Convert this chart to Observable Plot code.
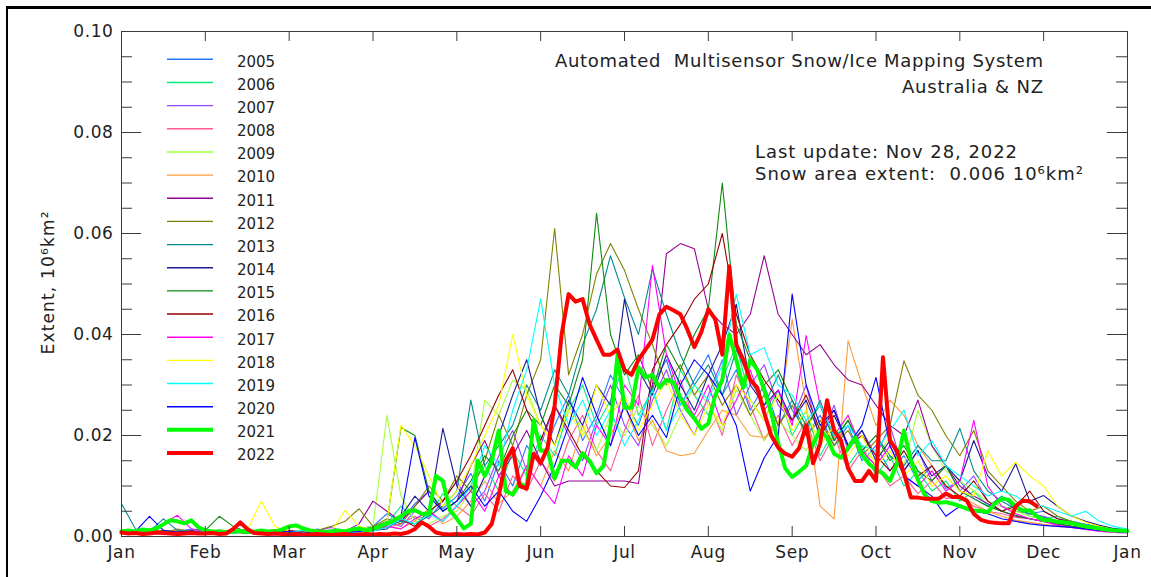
<!DOCTYPE html>
<html>
<head>
<meta charset="utf-8">
<script src="https://cdn.jsdelivr.net/npm/d3@7"></script>
<script src="https://cdn.jsdelivr.net/npm/@observablehq/plot@0.6"></script>
<style>
  html, body { margin: 0; padding: 0; background: #fff; }
  #wrap { position: relative; width: 1151px; height: 577px; overflow: hidden; font-family: "DejaVu Sans", sans-serif; }
  #chart { position: absolute; left: 0; top: 0; }
  #chart text { letter-spacing: 0.6px; }
  #overlay { position: absolute; left: 0; top: 0; pointer-events: none; font-family: "DejaVu Sans", sans-serif; fill: #222; }
  #borderL { position: absolute; left: 6px; top: 6px; width: 2px; height: 600px; background: #000; }
  #borderT { position: absolute; left: 6px; top: 6px; width: 1200px; height: 3px; background: #000; }
</style>
</head>
<body>
<div id="wrap">
  <div id="chart"></div>
  <svg id="overlay" width="1151" height="577"></svg>
  <div id="borderL"></div>
  <div id="borderT"></div>
</div>
<script>
// ---------- labels ----------
const monthLabels = ["Jan","Feb","Mar","Apr","May","Jun","Jul","Aug","Sep","Oct","Nov","Dec","Jan"];
const monthTicks = [0,1,2,3,4,5,6,7,8,9,10,11,12];
const yMajorTicks = [0, 0.02, 0.04, 0.06, 0.08, 0.10];
const yMinorTicks = [0.005,0.01,0.015,0.025,0.03,0.035,0.045,0.05,0.055,0.065,0.07,0.075,0.085,0.09,0.095];
const yearLabels = ["2005","2006","2007","2008","2009","2010","2011","2012","2013","2014","2015","2016","2017","2018","2019","2020","2021","2022"];
const yearColors = ["#2878ff","#00ee80","#9945ff","#ff5a96","#a6ff3c","#ff9a3c","#960096","#808000","#008c8c","#1a1a99","#108a10","#960000","#ff00ff","#ffff00","#00ffff","#0000ff","#00ff00","#ff0000"];
const titleLine1 = "Automated  Multisensor Snow/Ice Mapping System";
const titleLine2 = "Australia & NZ";
const updateLine = "Last update: Nov 28, 2022";
const extentLine = "Snow area extent:  0.006 10\u2076km\u00b2";
const yAxisLabel = "Extent, 10\u2076km\u00b2";

// ---------- snow extent, 10^6 km^2 ----------
// background years: one value every 1/6 month (Jan 1 .. next Jan 1)
const bgStep = 1 / 6;
const ext2005 = [0.001,0.0008,0.0012,0.0009,0.001,0.0015, 0.0012,0.0008,0.001,0.0014,0.0009,0.001, 0.0012,0.0008,0.0015,0.001,0.0009,0.0016, 0.002,0.0045,0.003,0.0065,0.009,0.0055, 0.008,0.0125,0.007,0.015,0.01,0.018, 0.014,0.022,0.028,0.019,0.024,0.032, 0.027,0.022,0.03,0.035,0.026,0.031, 0.036,0.028,0.033,0.025,0.03,0.022, 0.027,0.02,0.024,0.018,0.022,0.015, 0.018,0.013,0.016,0.011,0.014,0.0095, 0.011,0.0075,0.006,0.008,0.0055,0.0045, 0.005,0.0035,0.003,0.0024,0.002,0.0015, 0.0012];
const ext2006 = [0.0006,0.0009,0.0007,0.0011,0.0008,0.0007, 0.001,0.0006,0.0008,0.0012,0.0007,0.0009, 0.0008,0.0013,0.0009,0.0007,0.0011,0.0014, 0.0015,0.0025,0.006,0.0035,0.004,0.0085, 0.006,0.01,0.014,0.009,0.017,0.012, 0.02,0.016,0.025,0.03,0.022,0.027, 0.034,0.024,0.029,0.021,0.033,0.028, 0.024,0.031,0.038,0.027,0.023,0.029, 0.02,0.025,0.016,0.021,0.014,0.018, 0.012,0.016,0.01,0.013,0.009,0.011, 0.007,0.009,0.006,0.005,0.0065,0.004, 0.0035,0.004,0.0028,0.0022,0.0018,0.0014, 0.001];
const ext2007 = [0.0012,0.0008,0.0015,0.001,0.0007,0.0011, 0.0008,0.0013,0.0009,0.0007,0.0012,0.0008, 0.001,0.0008,0.0012,0.0018,0.001,0.0009, 0.0014,0.003,0.002,0.005,0.0035,0.007, 0.011,0.006,0.009,0.016,0.021,0.013, 0.018,0.026,0.02,0.015,0.023,0.03, 0.022,0.018,0.027,0.033,0.025,0.02, 0.028,0.035,0.024,0.03,0.034,0.026, 0.023,0.03,0.019,0.026,0.017,0.021, 0.016,0.022,0.013,0.017,0.011,0.014, 0.009,0.012,0.007,0.006,0.005,0.0045, 0.004,0.003,0.0025,0.0022,0.0016,0.0012, 0.0009];
const ext2008 = [0.0008,0.001,0.0006,0.0009,0.0012,0.0008, 0.0007,0.001,0.0008,0.0006,0.0009,0.0011, 0.0007,0.0009,0.0013,0.0008,0.0006,0.001, 0.0012,0.0018,0.0025,0.004,0.002,0.0035, 0.006,0.004,0.0085,0.005,0.012,0.009, 0.015,0.011,0.019,0.024,0.017,0.013, 0.021,0.028,0.018,0.025,0.031,0.023, 0.027,0.02,0.032,0.026,0.019,0.024, 0.018,0.023,0.015,0.02,0.013,0.017, 0.014,0.01,0.012,0.0085,0.011,0.0075, 0.008,0.006,0.005,0.0045,0.0038,0.0035, 0.003,0.0025,0.002,0.0016,0.0013,0.001, 0.0008];
const ext2009 = [0.0005,0.0008,0.0006,0.001,0.0007,0.0006, 0.0009,0.0006,0.0008,0.0007,0.001,0.0006, 0.0008,0.0007,0.001,0.0009,0.0012,0.0015, 0.002,0.024,0.008,0.003,0.0025,0.004, 0.005,0.009,0.027,0.024,0.031,0.029, 0.022,0.018,0.026,0.021,0.017,0.024, 0.02,0.026,0.022,0.018,0.024,0.03, 0.026,0.021,0.029,0.024,0.019,0.023, 0.02,0.017,0.022,0.019,0.024,0.017, 0.015,0.02,0.014,0.025,0.018,0.013, 0.011,0.009,0.007,0.006,0.005,0.004, 0.0035,0.003,0.0024,0.002,0.0015,0.0012, 0.001];
const ext2010 = [0.0007,0.001,0.0008,0.0013,0.0009,0.0007, 0.001,0.0008,0.0012,0.0007,0.0009,0.0008, 0.0006,0.0009,0.0008,0.0012,0.0007,0.001, 0.0013,0.002,0.0016,0.003,0.0055,0.0025, 0.004,0.007,0.011,0.0065,0.009,0.014, 0.01,0.017,0.013,0.022,0.016,0.02, 0.026,0.019,0.023,0.017,0.016,0.0165, 0.021,0.025,0.024,0.02,0.0196,0.022, 0.043,0.026,0.006,0.0035,0.0388,0.03, 0.022,0.027,0.024,0.018,0.014,0.01, 0.008,0.0065,0.005,0.004,0.0032,0.0028, 0.0024,0.002,0.0018,0.0015,0.0012,0.001, 0.0008];
const ext2011 = [0.0008,0.0006,0.001,0.0007,0.0009,0.0012, 0.0008,0.001,0.0007,0.0009,0.0011,0.0008, 0.001,0.0007,0.0009,0.0013,0.001,0.0025, 0.007,0.005,0.003,0.006,0.009,0.005, 0.007,0.014,0.019,0.012,0.016,0.021, 0.015,0.01,0.011,0.011,0.011,0.011, 0.011,0.0105,0.03,0.056,0.058,0.057, 0.045,0.042,0.04,0.044,0.0556,0.044, 0.04,0.036,0.038,0.034,0.031,0.03, 0.026,0.022,0.02,0.027,0.018,0.014, 0.01,0.008,0.0065,0.005,0.004,0.0035, 0.003,0.0025,0.002,0.0016,0.0012,0.001, 0.0008];
const ext2012 = [0.0008,0.0012,0.001,0.0007,0.0015,0.001, 0.0009,0.0007,0.0012,0.0008,0.001,0.0014, 0.001,0.0008,0.0012,0.002,0.003,0.0055, 0.002,0.0035,0.0025,0.006,0.01,0.007, 0.012,0.009,0.015,0.024,0.018,0.028, 0.035,0.061,0.032,0.04,0.052,0.058, 0.0527,0.045,0.038,0.03,0.034,0.028, 0.032,0.026,0.03,0.024,0.028,0.022, 0.026,0.02,0.023,0.018,0.021,0.016, 0.019,0.022,0.0348,0.028,0.025,0.02, 0.016,0.021,0.013,0.01,0.007,0.005, 0.006,0.004,0.003,0.0022,0.0016,0.0012, 0.001];
const ext2013 = [0.0065,0.0015,0.001,0.0035,0.0012,0.001, 0.0008,0.001,0.0007,0.0012,0.0009,0.0008, 0.001,0.0007,0.0009,0.0011,0.0008,0.001, 0.0015,0.002,0.003,0.0025,0.004,0.006, 0.009,0.027,0.014,0.018,0.022,0.03, 0.025,0.033,0.028,0.038,0.045,0.0556, 0.0473,0.04,0.053,0.044,0.036,0.03, 0.034,0.028,0.037,0.031,0.026,0.032, 0.025,0.021,0.027,0.019,0.023,0.017, 0.02,0.016,0.014,0.018,0.015,0.015, 0.0214,0.013,0.009,0.007,0.0055,0.0045, 0.0038,0.003,0.0025,0.002,0.0016,0.0012, 0.001];
const ext2014 = [0.001,0.0007,0.0012,0.0009,0.0008,0.0011, 0.0007,0.0009,0.001,0.0008,0.0012,0.0009, 0.0008,0.001,0.0007,0.0012,0.0009,0.001, 0.0012,0.0015,0.004,0.008,0.005,0.0214, 0.01,0.006,0.012,0.02,0.028,0.035, 0.024,0.018,0.027,0.022,0.03,0.026, 0.047,0.033,0.028,0.036,0.03,0.025, 0.032,0.038,0.046,0.03,0.026,0.029, 0.023,0.027,0.02,0.024,0.018,0.021, 0.015,0.019,0.013,0.017,0.012,0.014, 0.011,0.019,0.012,0.009,0.0144,0.007, 0.0081,0.006,0.004,0.003,0.0022,0.0016, 0.0013];
const ext2015 = [0.0008,0.001,0.0007,0.0012,0.0009,0.001, 0.0012,0.004,0.002,0.0009,0.0007,0.001, 0.0008,0.0011,0.0009,0.0007,0.001,0.0013, 0.0018,0.003,0.0216,0.02,0.009,0.005, 0.007,0.011,0.016,0.013,0.02,0.025, 0.022,0.03,0.026,0.035,0.064,0.04, 0.032,0.036,0.029,0.038,0.033,0.04, 0.045,0.07,0.042,0.035,0.03,0.033, 0.027,0.022,0.026,0.019,0.023,0.017, 0.02,0.015,0.018,0.013,0.011,0.014, 0.009,0.0075,0.006,0.005,0.0042,0.0035, 0.003,0.0025,0.002,0.0016,0.0013,0.001, 0.0008];
const ext2016 = [0.001,0.0008,0.0012,0.0007,0.001,0.0009, 0.0008,0.0011,0.0009,0.0007,0.001,0.0008, 0.0012,0.0009,0.0007,0.001,0.0008,0.0011, 0.0015,0.0025,0.0035,0.002,0.005,0.007, 0.011,0.016,0.022,0.028,0.033,0.025, 0.019,0.026,0.021,0.016,0.013,0.01, 0.0097,0.013,0.033,0.038,0.042,0.047, 0.05,0.06,0.044,0.036,0.031,0.027, 0.023,0.028,0.021,0.025,0.018,0.02, 0.016,0.013,0.017,0.012,0.014,0.01, 0.008,0.011,0.007,0.005,0.006,0.009, 0.005,0.0035,0.0028,0.0022,0.0016,0.0012, 0.001];
const ext2017 = [0.0008,0.001,0.0012,0.0025,0.0042,0.0015, 0.001,0.0008,0.0012,0.0009,0.001,0.0007, 0.001,0.0008,0.0009,0.0012,0.0007,0.001, 0.0013,0.002,0.0015,0.0035,0.005,0.003, 0.006,0.009,0.005,0.012,0.008,0.014, 0.01,0.0065,0.016,0.012,0.022,0.018, 0.03,0.026,0.0537,0.036,0.028,0.024, 0.03,0.022,0.027,0.033,0.025,0.029, 0.022,0.0398,0.026,0.02,0.024,0.017, 0.014,0.018,0.012,0.01,0.013,0.009, 0.011,0.023,0.01,0.006,0.0045,0.0035, 0.003,0.0022,0.0018,0.0014,0.001,0.0008, 0.0007];
const ext2018 = [0.0006,0.0008,0.001,0.0007,0.0009,0.0008, 0.001,0.0007,0.0009,0.0012,0.007,0.002, 0.001,0.0008,0.0012,0.0009,0.0052,0.002, 0.0012,0.003,0.022,0.018,0.012,0.006, 0.009,0.014,0.02,0.026,0.04,0.028, 0.022,0.018,0.025,0.02,0.03,0.024, 0.028,0.021,0.026,0.031,0.024,0.02, 0.026,0.022,0.03,0.027,0.023,0.028, 0.021,0.025,0.018,0.022,0.016,0.02, 0.014,0.017,0.012,0.015,0.01,0.012, 0.009,0.008,0.017,0.012,0.0147,0.012, 0.01,0.006,0.004,0.0028,0.002,0.0014, 0.001];
const ext2019 = [0.0008,0.0006,0.0009,0.001,0.0007,0.0008, 0.001,0.0008,0.0007,0.0009,0.0011,0.0008, 0.0009,0.0012,0.0008,0.001,0.0007,0.0009, 0.0011,0.0018,0.0035,0.0025,0.0045,0.003, 0.006,0.01,0.018,0.014,0.025,0.033, 0.047,0.03,0.022,0.027,0.02,0.025, 0.018,0.023,0.029,0.021,0.026,0.03, 0.027,0.034,0.048,0.036,0.0374,0.03, 0.028,0.023,0.026,0.02,0.022,0.018, 0.017,0.021,0.025,0.016,0.019,0.014, 0.012,0.01,0.008,0.009,0.008,0.0065, 0.006,0.005,0.004,0.005,0.003,0.002, 0.0015];
const ext2020 = [0.0008,0.001,0.004,0.0012,0.0009,0.001, 0.0008,0.0011,0.0009,0.0007,0.001,0.0008, 0.001,0.0007,0.0009,0.0012,0.0008,0.001, 0.0015,0.0025,0.004,0.0196,0.008,0.005, 0.007,0.01,0.006,0.009,0.005,0.003, 0.008,0.014,0.022,0.0315,0.024,0.018, 0.026,0.02,0.024,0.0196,0.03,0.035, 0.032,0.028,0.022,0.009,0.0156,0.02, 0.048,0.03,0.022,0.025,0.018,0.022, 0.0315,0.018,0.012,0.01,0.008,0.004, 0.006,0.005,0.0045,0.0035,0.003,0.0025, 0.0022,0.002,0.0018,0.0015,0.0012,0.001, 0.0008];
// highlighted years: one value every 1/12 month
const hiStep = 1 / 12;
const ext2021 = [0.001,0.0012,0.001,0.0014,0.0012,0.0016,0.0024,0.0032,0.003,0.0026,0.0032,0.0018,
  0.0012,0.001,0.001,0.0009,0.001,0.0011,0.0009,0.001,0.0012,0.001,0.001,0.0014,
  0.002,0.0022,0.0016,0.0012,0.001,0.0009,0.001,0.0012,0.001,0.0014,0.0016,0.0012,
  0.0015,0.002,0.0026,0.0032,0.004,0.005,0.0052,0.0045,0.0045,0.012,0.011,0.0052,
  0.0035,0.0016,0.0025,0.015,0.012,0.015,0.021,0.009,0.0083,0.0105,0.0098,0.023,
  0.017,0.017,0.0115,0.015,0.015,0.0137,0.0165,0.015,0.0125,0.014,0.022,0.036,
  0.0255,0.0255,0.0335,0.0315,0.032,0.0295,0.031,0.0305,0.0275,0.025,0.0234,0.0213,
  0.0224,0.028,0.031,0.04,0.035,0.0295,0.035,0.033,0.029,0.0245,0.0185,0.0135,
  0.0118,0.0128,0.014,0.0184,0.021,0.0196,0.0164,0.0156,0.0175,0.0196,0.0162,0.0144,
  0.0132,0.0125,0.011,0.0144,0.021,0.015,0.0112,0.0082,0.007,0.0067,0.0068,0.0065,
  0.006,0.0055,0.0051,0.0051,0.0048,0.0065,0.0075,0.0073,0.0059,0.0051,0.0052,0.004,
  0.0032,0.0032,0.0029,0.0028,0.0026,0.0023,0.002,0.0018,0.0016,0.0014,0.0012,0.0012,0.0011];
const ext2022 = [0.0008,0.0006,0.0007,0.0005,0.0006,0.0008,0.0007,0.0006,0.0005,0.0006,0.0007,0.0006,
  0.0006,0.0007,0.0005,0.0006,0.0015,0.0028,0.0015,0.0007,0.0006,0.0005,0.0006,0.0005,
  0.0004,0.0005,0.0003,0.0004,0.0005,0.0004,0.0003,0.0004,0.0005,0.0003,0.0004,0.0005,
  0.0004,0.0005,0.0004,0.0006,0.0005,0.0008,0.0015,0.0028,0.002,0.0008,0.0005,0.0004,
  0.0005,0.0004,0.0005,0.0004,0.0008,0.0025,0.008,0.015,0.0175,0.01,0.0095,0.0164,
  0.0145,0.0176,0.026,0.04,0.048,0.0465,0.047,0.042,0.039,0.036,0.036,0.037,
  0.033,0.032,0.035,0.037,0.039,0.044,0.0455,0.0448,0.044,0.041,0.0375,0.0405,
  0.045,0.043,0.036,0.0535,0.038,0.035,0.031,0.0295,0.0245,0.02,0.0176,0.0164,
  0.0158,0.0175,0.022,0.0145,0.0184,0.027,0.021,0.019,0.0135,0.011,0.011,0.013,
  0.011,0.0355,0.019,0.017,0.0125,0.0077,0.0077,0.0075,0.0075,0.0075,0.0085,0.0078,
  0.0078,0.0071,0.0045,0.0033,0.0029,0.0027,0.0026,0.0026,0.006,0.0071,0.007,0.006];

const bgYears = yearLabels.slice(0, 16);
const bgArrays = [ext2005,ext2006,ext2007,ext2008,ext2009,ext2010,ext2011,ext2012,ext2013,ext2014,ext2015,ext2016,ext2017,ext2018,ext2019,ext2020];
const hiYears = ["2021","2022"];
const hiArrays = [ext2021, ext2022];

const bgRows = [];
bgArrays.forEach((arr, k) => arr.forEach((v, i) => bgRows.push({year: bgYears[k], month: i * bgStep, extent: v})));
const hiRows = [];
hiArrays.forEach((arr, k) => arr.forEach((v, i) => hiRows.push({year: hiYears[k], month: i * hiStep, extent: v})));

const axisColor = "#3a3a3a";
const plotW = 1151 - 121 - 24;
const plotH = 577 - 31 - 41;

const chart = Plot.plot({
  width: 1151,
  height: 577,
  marginLeft: 121,
  marginRight: 24,
  marginTop: 31,
  marginBottom: 41,
  x: {domain: [0, 12], axis: null, label: null},
  y: {domain: [0, 0.1], axis: null, label: null},
  color: {type: "ordinal", domain: yearLabels, range: yearColors},
  style: {background: "#fff", color: "#222", fontFamily: "'DejaVu Sans', sans-serif", fontSize: "17px", overflow: "visible"},
  marks: [
    Plot.line(bgRows, {x: "month", y: "extent", z: "year", stroke: "year", strokeWidth: 1.1}),
    Plot.line(hiRows, {x: "month", y: "extent", z: "year", stroke: "year", strokeWidth: 4}),
    Plot.frame({stroke: axisColor}),
    Plot.ruleY(yMajorTicks, {stroke: axisColor, insetRight: plotW - 20}),
    Plot.ruleY(yMajorTicks, {stroke: axisColor, insetLeft: plotW - 20}),
    Plot.ruleY(yMinorTicks, {stroke: axisColor, insetRight: plotW - 11}),
    Plot.ruleY(yMinorTicks, {stroke: axisColor, insetLeft: plotW - 11}),
    Plot.ruleX(monthTicks.slice(1, -1), {stroke: axisColor, insetBottom: plotH - 10}),
    Plot.ruleX(monthTicks.slice(1, -1), {stroke: axisColor, insetTop: plotH - 10}),
    Plot.axisY(yMajorTicks, {tickSize: 0, tickPadding: 8, tickFormat: d3.format(".2f"), fontSize: 17, label: null}),
    Plot.axisX(monthTicks, {tickSize: 0, tickPadding: 9, tickFormat: (d) => monthLabels[d], fontSize: 17, label: null})
  ]
});
document.getElementById("chart").appendChild(chart);

// ---------- legend & annotations ----------
const ov = d3.select("#overlay");
const legendTop = 59.3, legendStep = 23.16;
yearLabels.forEach((yr, k) => {
  const y = legendTop + k * legendStep;
  const thick = hiYears.includes(yr);
  ov.append("line").attr("x1", 167).attr("x2", 213).attr("y1", y).attr("y2", y)
    .attr("stroke", yearColors[k]).attr("stroke-width", thick ? 4 : 1.4);
  ov.append("text").attr("x", 237).attr("y", y + 7.3).attr("font-size", 15)
    .attr("textLength", 38).attr("lengthAdjust", "spacing").text(yr);
});
function label(txt, x, y, size, len) {
  ov.append("text").attr("x", x).attr("y", y).attr("font-size", size)
    .attr("textLength", len).attr("lengthAdjust", "spacing")
    .style("white-space", "pre").text(txt);
}
label(titleLine1, 555, 67, 18, 488);
label(titleLine2, 902, 93, 18, 141);
label(updateLine, 755, 157.5, 18, 262);
label(extentLine, 755, 180, 18, 328);
ov.append("text").attr("transform", "translate(54,283) rotate(-90)")
  .attr("text-anchor", "middle").attr("font-size", 17)
  .attr("textLength", 143).attr("lengthAdjust", "spacing").text(yAxisLabel);
</script>
</body>
</html>
